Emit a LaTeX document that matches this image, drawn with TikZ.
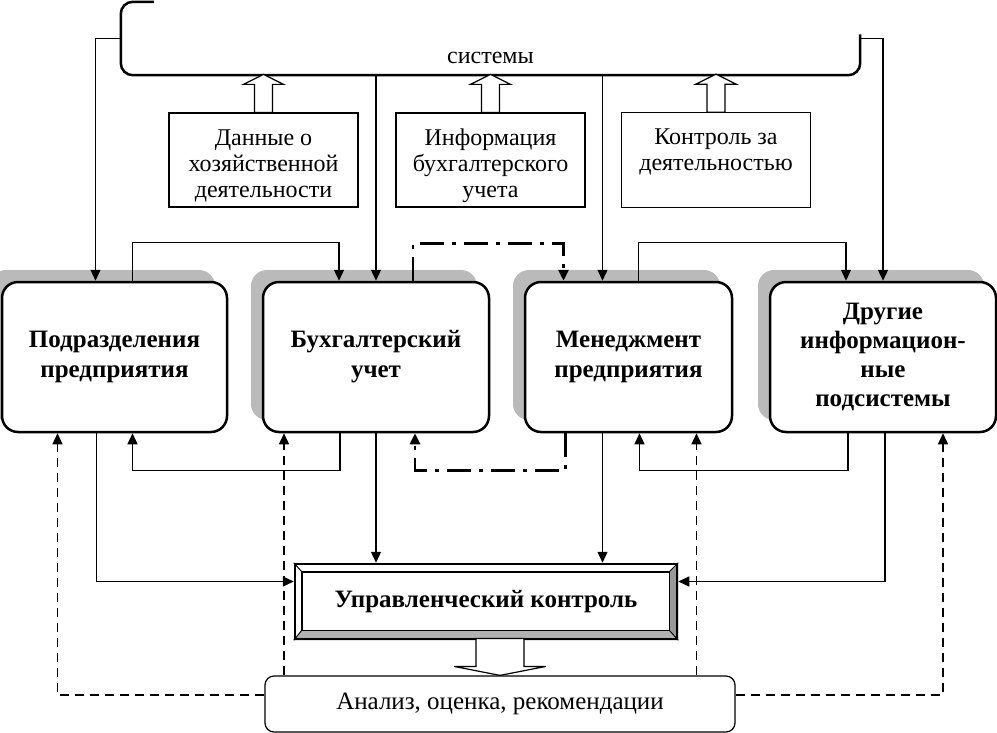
\documentclass[tikz,border=0pt]{standalone}
\usepackage{fontspec}
\setmainfont{Liberation Serif}
\usetikzlibrary{arrows.meta,shadows,backgrounds}

\newcommand\topgap{\rule{0pt}{28pt}}

\tikzset{
  unit/.style={draw, line width=2.5pt, rounded corners=16pt, fill=white,
    minimum width=#1, minimum height=150pt, align=center,
    font=\fontsize{25}{30}\bfseries\selectfont,
    drop shadow={shadow xshift=-12pt, shadow yshift=12pt, fill=black!27, opacity=1}},
  info/.style={draw, line width=1.2pt, minimum width=189pt, minimum height=94pt,
    align=center, font=\fontsize{24}{26}\selectfont},
  arr/.style={-{Triangle[length=11pt,width=10pt]}, line width=1.3pt},
  dashdot/.style={arr, line width=2.8pt, dash pattern=on 24pt off 8pt on 4pt off 8pt},
  dsh/.style={arr, line width=1.2pt, dash pattern=on 9pt off 6pt},
  hollow/.style={draw, fill=white, line width=1.2pt}
}

\begin{document}
\begin{tikzpicture}[x=1pt, y=-1pt]
      \useasboundingbox (0,0) rectangle (997,733);

      % top block
      \node[minimum width=739pt, minimum height=73pt, align=center,
        font=\fontsize{24}{30}\selectfont] (sys) at (490.5,38.5) {\strut\\системы};
      \draw[line width=2.5pt, rounded corners=12pt] ([xshift=33pt]sys.north west)
        -- (sys.north west) -- (sys.south west) -- (sys.south east) -- ([yshift=4pt]sys.east);

      \node[info] (dan) at (263.5,160) {\topgap Данные о\\хозяйственной\\деятельности};
      \node[info] (inf) at (490.5,160) {\topgap Информация\\бухгалтерского\\учета};
      \node[info] (kon) at (716,160) {\topgap Контроль за\\деятельностью\\\strut};

      \node[unit=225pt] (podr) at (114.5,357) {Подразделения\\предприятия};
      \node[unit=226pt] (buh) at (376,357) {Бухгалтерский\\учет};
      \node[unit=207pt] (men) at (628.5,357) {Менеджмент\\предприятия};
      \node[unit=226pt, font=\fontsize{25}{29}\bfseries\selectfont] (drug) at (883,357)
        {Другие\\информацион-\\ные\\подсистемы};

      \node[draw, line width=2.5pt, minimum width=382pt, minimum height=75pt,
        font=\fontsize{25}{28}\bfseries\selectfont] (uk) at (486,601.5) {Управленческий контроль};
      \begin{scope}[on background layer]
        \fill[black!40] (uk.north east) -- (uk.south east)
          -- ([shift={(-9,-10)}]uk.south east) -- ([shift={(-9,9)}]uk.north east) -- cycle;
        \fill[black!30] (uk.south west) -- (uk.south east)
          -- ([shift={(-9,-10)}]uk.south east) -- ([shift={(8,-10)}]uk.south west) -- cycle;
      \end{scope}
      \draw[line width=1.5pt] ([shift={(8,9)}]uk.north west) rectangle ([shift={(-9,-10)}]uk.south east);
      \draw[line width=1pt] (uk.north west) -- ([shift={(8,9)}]uk.north west);
      \draw[line width=1pt] (uk.north east) -- ([shift={(-9,9)}]uk.north east);
      \draw[line width=1pt] (uk.south west) -- ([shift={(8,-10)}]uk.south west);
      \draw[line width=1pt] (uk.south east) -- ([shift={(-9,-10)}]uk.south east);

      \node[draw, line width=1.2pt, rounded corners=9pt, minimum width=470pt, minimum height=56pt,
        font=\fontsize{25}{28}\selectfont] (an) at (500,704) {Анализ, оценка, рекомендации};

      \coordinate (mtop) at ([xshift=-26pt]men.north);
      \coordinate (mbot) at ([xshift=-26pt]men.south);
      \coordinate (bdash) at ([xshift=-92pt]buh.south);
      \coordinate (mdash) at ([xshift=68pt]men.south);

      % upper links
      \draw[arr] (sys.west) -| ([xshift=-19pt]podr.north);
      \draw[arr] ([xshift=18pt]podr.north) -- ++(0,-38) -| ([xshift=-37pt]buh.north);
      \draw[arr] (buh.north |- sys.south) -- (buh.north);
      \draw[dashdot] ([xshift=37pt]buh.north) -- ++(0,-37) -| ([xshift=-65pt]men.north);
      \draw[arr] (mtop |- sys.south) -- (mtop);
      \draw[arr] ([xshift=10pt]men.north) -- ++(0,-38) -| ([xshift=-37pt]drug.north);
      \draw[arr] (sys.east) -| (drug.north);

      \foreach \b in {dan,inf,kon}
        \draw[hollow] ([xshift=-9pt]\b.north) -- ++(0,-28) -- ++(-11,0) -- ++(20,-10)
          -- ++(20,10) -- ++(-11,0) -- ++(0,28) -- cycle;

      % lower links
      \draw[arr] ([xshift=-18pt]podr.south) |- ([yshift=20pt]uk.west);
      \draw[arr] ([xshift=-36pt]buh.south) -- ++(0,37) -| ([xshift=18pt]podr.south);
      \draw[arr] (buh.south) -- (buh.south |- uk.north);
      \draw[dashdot] ([xshift=-63pt]men.south) -- ++(0,37) -| ([xshift=39pt]buh.south);
      \draw[arr] (mbot) -- (mbot |- uk.north);
      \draw[arr] ([xshift=-35pt]drug.south) -- ++(0,37) -| ([xshift=11pt]men.south);
      \draw[arr] ([xshift=2pt]drug.south) |- ([yshift=20pt]uk.east);

      \draw[hollow] (an.north) -- ++(-46,-9) -- ++(22,0) -- ++(0,-28) -- ++(48,0)
        -- ++(0,28) -- ++(22,0) -- cycle;

      % feedback
      \draw[dsh] ([yshift=9pt]an.west) -| ([xshift=-57pt]podr.south);
      \draw[dsh] (bdash |- an.north) -- (bdash);
      \draw[dsh] (mdash |- an.north) -- (mdash);
      \draw[dsh] ([yshift=9pt]an.east) -| ([xshift=60pt]drug.south);
    \end{tikzpicture}
\end{document}
